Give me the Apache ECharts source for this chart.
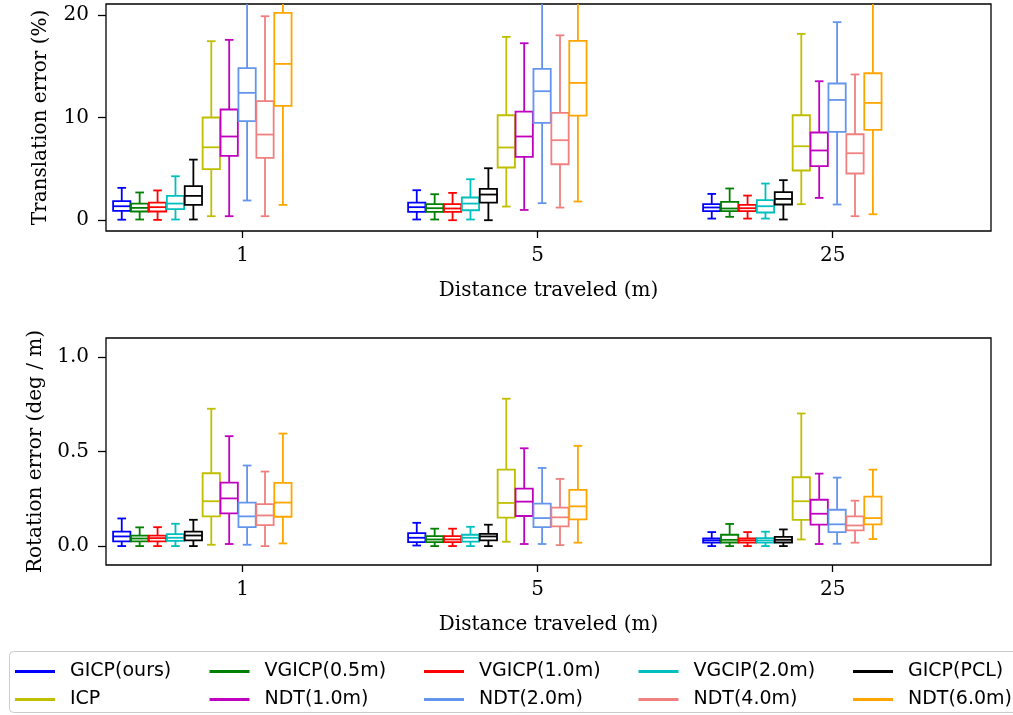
<!DOCTYPE html>
<html><head><meta charset="utf-8">
<script src="https://cdn.jsdelivr.net/npm/echarts@6/dist/echarts.min.js"></script>
<style>html,body{margin:0;padding:0;background:#fff}#c{width:1013px;height:715px}</style>
</head><body><div id="c"></div>
<script>
// Categories (distance traveled)
const categories = ['1', '5', '25'];
const methods = ['GICP(ours)', 'VGICP(0.5m)', 'VGICP(1.0m)', 'VGCIP(2.0m)', 'GICP(PCL)',
                 'ICP', 'NDT(1.0m)', 'NDT(2.0m)', 'NDT(4.0m)', 'NDT(6.0m)'];
const colors = ['#0000ff', '#008000', '#ff0000', '#00bfbf', '#000000',
                '#bfbf00', '#bf00bf', '#6495ed', '#f08080', '#ffa500'];
const transTicks = [0, 10, 20];
const rotTicks = [0, 0.5, 1.0];

// Each row: [min, Q1, median, Q3, max] per method
const translation_1 = [
  [0.05, 0.90, 1.36, 1.85, 3.15],
  [0.07, 0.85, 1.20, 1.62, 2.70],
  [0.03, 0.85, 1.27, 1.72, 2.90],
  [0.07, 1.07, 1.62, 2.37, 4.28],
  [0.07, 1.50, 2.37, 3.31, 5.90],
  [0.39, 4.97, 7.10, 10.00, 17.43],
  [0.39, 6.26, 8.15, 10.78, 17.56],
  [1.92, 9.64, 12.40, 14.80, 24.0],
  [0.39, 6.07, 8.34, 11.59, 19.86],
  [1.49, 11.13, 15.22, 20.19, 27.0]
];
const translation_5 = [
  [0.07, 0.81, 1.27, 1.72, 2.92],
  [0.07, 0.81, 1.17, 1.56, 2.53],
  [0.00, 0.81, 1.14, 1.56, 2.66],
  [0.07, 0.97, 1.62, 2.21, 3.99],
  [0.00, 1.72, 2.50, 3.05, 5.06],
  [1.33, 5.13, 7.08, 10.22, 17.85],
  [1.00, 6.16, 8.15, 10.58, 17.23],
  [1.66, 9.47, 12.56, 14.73, 24.5],
  [1.23, 5.45, 7.79, 10.45, 18.00],
  [1.82, 10.19, 13.37, 17.46, 26.0]
];
const translation_25 = [
  [0.16, 0.88, 1.24, 1.56, 2.56],
  [0.33, 0.88, 1.14, 1.79, 3.09],
  [0.16, 0.88, 1.17, 1.49, 2.40],
  [0.16, 0.75, 1.36, 1.95, 3.57],
  [0.07, 1.53, 2.07, 2.73, 3.90],
  [1.56, 4.84, 7.20, 10.22, 18.14],
  [2.17, 5.26, 6.79, 8.54, 13.53],
  [1.53, 8.60, 11.71, 13.31, 19.28],
  [0.39, 4.55, 6.52, 8.37, 14.19],
  [0.58, 8.79, 11.42, 14.31, 23.0]
];
const rotation_1 = [
  [0.000, 0.025, 0.051, 0.076, 0.146],
  [0.000, 0.025, 0.040, 0.055, 0.099],
  [0.000, 0.025, 0.042, 0.055, 0.100],
  [0.000, 0.028, 0.044, 0.063, 0.118],
  [0.000, 0.030, 0.056, 0.076, 0.139],
  [0.007, 0.157, 0.237, 0.385, 0.726],
  [0.011, 0.173, 0.252, 0.335, 0.581],
  [0.007, 0.100, 0.157, 0.230, 0.426],
  [0.000, 0.111, 0.162, 0.222, 0.394],
  [0.014, 0.155, 0.230, 0.334, 0.595]
];
const rotation_5 = [
  [0.003, 0.021, 0.044, 0.069, 0.123],
  [0.000, 0.021, 0.035, 0.053, 0.092],
  [0.000, 0.021, 0.035, 0.053, 0.092],
  [0.000, 0.024, 0.044, 0.060, 0.102],
  [0.000, 0.030, 0.051, 0.065, 0.113],
  [0.023, 0.150, 0.228, 0.404, 0.779],
  [0.011, 0.159, 0.235, 0.304, 0.517],
  [0.011, 0.100, 0.148, 0.224, 0.413],
  [0.005, 0.104, 0.152, 0.203, 0.355],
  [0.018, 0.141, 0.210, 0.297, 0.530]
];
const rotation_25 = [
  [0.000, 0.018, 0.030, 0.040, 0.074],
  [0.000, 0.019, 0.033, 0.060, 0.117],
  [0.000, 0.018, 0.030, 0.040, 0.074],
  [0.000, 0.018, 0.030, 0.042, 0.076],
  [0.000, 0.019, 0.033, 0.049, 0.088],
  [0.035, 0.139, 0.237, 0.364, 0.701],
  [0.011, 0.113, 0.171, 0.245, 0.383],
  [0.012, 0.074, 0.115, 0.192, 0.362],
  [0.018, 0.083, 0.109, 0.157, 0.240],
  [0.037, 0.115, 0.148, 0.261, 0.404]
];

// ---- layout constants ----
const OFFSET0 = -0.41, STEP = 0.0607, BOX_W = 0.0586, LW = 1.8;
const SERIF = 'DejaVu Serif';
const transGroups = [translation_1, translation_5, translation_25];
const rotGroups = [rotation_1, rotation_5, rotation_25];

function renderBox(params, api) {
  const x = api.value(0);
  const mn = api.value(1), q1 = api.value(2), md = api.value(3), q3 = api.value(4), mx = api.value(5);
  const hw = api.size([BOX_W, 0])[0] / 2;
  const cx = api.coord([x, md])[0];
  const Y = v => api.coord([x, v])[1];
  const color = api.visual('color');
  const st = { stroke: color, lineWidth: LW, fill: null };
  const line = (x1, y1, x2, y2) => ({ type: 'line', shape: { x1, y1, x2, y2 }, style: st });
  return {
    type: 'group',
    children: [
      line(cx, Y(q1), cx, Y(mn)),
      line(cx, Y(q3), cx, Y(mx)),
      line(cx - hw / 2, Y(mn), cx + hw / 2, Y(mn)),
      line(cx - hw / 2, Y(mx), cx + hw / 2, Y(mx)),
      { type: 'rect', shape: { x: cx - hw, y: Y(q3), width: 2 * hw, height: Y(q1) - Y(q3) }, style: st },
      line(cx - hw, Y(md), cx + hw, Y(md))
    ]
  };
}

function makeSeries(groups, gi) {
  return methods.map((name, k) => ({
    type: 'custom',
    name: name,
    xAxisIndex: gi, yAxisIndex: gi,
    clip: true,
    itemStyle: { color: colors[k] },
    encode: { x: 0, y: [1, 2, 3, 4, 5] },
    renderItem: renderBox,
    data: groups.map((g, c) => [c + OFFSET0 + k * STEP].concat(g[k]))
  }));
}

function xAxis(gi) {
  return {
    type: 'value', gridIndex: gi, min: -0.4634, max: 2.5366,
    splitLine: { show: false },
    axisLine: { show: false, onZero: false },
    axisTick: { show: true, length: 7, customValues: [0, 1, 2], lineStyle: { color: '#000', width: 1.3 } },
    axisLabel: { customValues: [0, 1, 2], formatter: v => categories[Math.round(v)],
                 color: '#000', fontFamily: SERIF, fontSize: 20, margin: 15 },
    name: 'Distance traveled (m)', nameLocation: 'middle', nameGap: 50,
    nameTextStyle: { color: '#000', fontFamily: SERIF, fontSize: 20 }
  };
}
function yAxis(gi, mn, mx, ticks, name, fmt) {
  return {
    type: 'value', gridIndex: gi, min: mn, max: mx,
    splitLine: { show: false },
    axisLine: { show: false, onZero: false },
    axisTick: { show: true, length: 8, customValues: ticks, lineStyle: { color: '#000', width: 1.3 } },
    axisLabel: { customValues: ticks, formatter: fmt, color: '#000', fontFamily: SERIF, fontSize: 20, margin: 17 },
    name: name, nameLocation: 'middle', nameGap: 55,
    nameTextStyle: { color: '#000', fontFamily: SERIF, fontSize: 20 }
  };
}

const legendCols = [15, 209.5, 424, 638.5, 853];
const legends = legendCols.map((left, c) => ({
  orient: 'vertical', left: left, top: 662, padding: 0,
  itemWidth: 40, itemHeight: 3, itemGap: 9, icon: 'rect', selectedMode: false,
  textStyle: { fontFamily: 'DejaVu Sans', fontSize: 19, color: '#000', padding: [0, 0, 0, 10] },
  data: [c, c + 5].map(k => ({ name: methods[k], itemStyle: { color: colors[k] } }))
}));

const chart = echarts.init(document.getElementById('c'), null, { renderer: 'canvas' });
chart.setOption({
  animation: false,
  backgroundColor: '#fff',
  color: colors,
  grid: [
    { left: 106, right: 22, top: 4, height: 227, show: true, borderColor: '#000', borderWidth: 1.3 },
    { left: 106, right: 22, top: 338, height: 227, show: true, borderColor: '#000', borderWidth: 1.3 }
  ],
  xAxis: [xAxis(0), xAxis(1)],
  yAxis: [
    yAxis(0, -1.05, 21.05, transTicks, 'Translation error (%)', v => String(Math.round(v))),
    yAxis(1, -0.1, 1.1, rotTicks, 'Rotation error (deg / m)', v => v.toFixed(1))
  ],
  legend: legends,
  graphic: [{
    type: 'rect', z: -1, silent: true,
    shape: { x: 9.5, y: 651.5, width: 1010, height: 61, r: 4 },
    style: { fill: '#fff', stroke: '#cccccc', lineWidth: 1 }
  }],
  series: makeSeries(transGroups, 0).concat(makeSeries(rotGroups, 1))
});
</script>
</body></html>
